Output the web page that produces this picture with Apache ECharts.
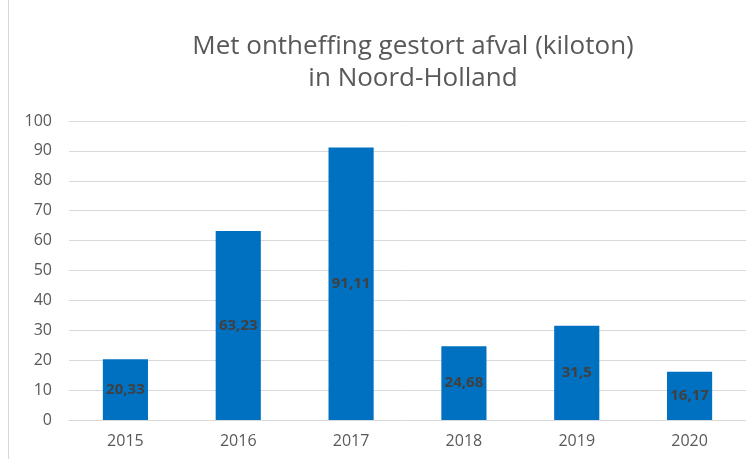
<!DOCTYPE html>
<html>
<head>
<meta charset="utf-8">
<script src="https://cdn.jsdelivr.net/npm/echarts@6/dist/echarts.min.js"></script>
<style>
  html, body { margin: 0; padding: 0; background: #fff; }
  #chart { width: 746px; height: 459px; }
</style>
</head>
<body>
<div id="chart"></div>
<script>
const years = ['2015', '2016', '2017', '2018', '2019', '2020']
const values = [20.33, 63.23, 91.11, 24.68, 31.5, 16.17]
const yTicks = { min: 0, max: 100, interval: 10 }

const chart = echarts.init(document.getElementById('chart'))

chart.setOption({
  animation: false,
  title: {
    text: 'Met ontheffing gestort afval (kiloton)\nin Noord-Holland',
    left: 408,
    top: 26,
    textAlign: 'center',
    textStyle: {
      fontFamily: 'Open Sans',
      fontWeight: 'normal',
      fontSize: 26,
      lineHeight: 32,
      color: '#595959'
    }
  },
  graphic: [{
    type: 'line',
    shape: { x1: 8.5, y1: 0, x2: 8.5, y2: 459 },
    style: { stroke: '#d9d9d9', lineWidth: 1 }
  }],
  grid: {
    left: 69,
    right: -9,
    top: 121,
    bottom: 39
  },
  xAxis: {
    type: 'category',
    data: years,
    axisTick: { show: false },
    axisLine: { lineStyle: { color: '#d9d9d9' } },
    axisLabel: {
      fontFamily: 'Open Sans',
      fontSize: 16,
      color: '#595959',
      margin: 13
    }
  },
  yAxis: {
    type: 'value',
    min: yTicks.min,
    max: yTicks.max,
    interval: yTicks.interval,
    axisLine: { show: false },
    axisTick: { show: false },
    splitLine: { lineStyle: { color: '#d9d9d9' } },
    axisLabel: {
      fontFamily: 'Open Sans',
      fontSize: 16,
      color: '#595959',
      margin: 17
    }
  },
  series: [{
    type: 'bar',
    data: values,
    barWidth: '40%',
    itemStyle: { color: '#0070C0' },
    label: {
      show: true,
      position: 'inside',
      fontFamily: 'Open Sans',
      fontWeight: 'bold',
      fontSize: 15,
      color: '#404040',
      formatter: p => String(p.value).replace('.', ',')
    }
  }]
})
</script>
</body>
</html>
